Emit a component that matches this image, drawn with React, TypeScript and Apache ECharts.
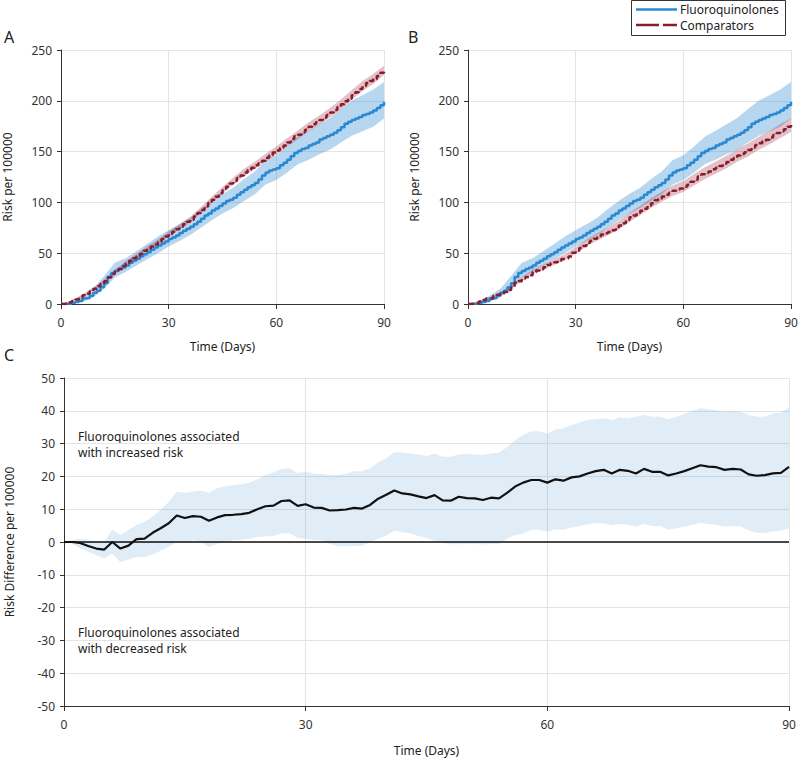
import React, { useEffect, useRef } from "react";
import * as echarts from "echarts";

const FONT = '"Noto Sans", "Open Sans", sans-serif';

const DAYS = [0,1,2,3,4,5,6,7,8,9,10,11,12,13,14,15,16,17,18,19,20,21,22,23,24,25,26,27,28,29,30,31,32,33,34,35,36,37,38,39,40,41,42,43,44,45,46,47,48,49,50,51,52,53,54,55,56,57,58,59,60,61,62,63,64,65,66,67,68,69,70,71,72,73,74,75,76,77,78,79,80,81,82,83,84,85,86,87,88,89,90];
const BAND_DAYS = [0,3,6,9,12,15,18,21,24,27,30,33,36,39,42,45,48,51,54,57,60,63,66,69,72,75,78,81,84,87,90];
const X_TICKS_INTERVAL = 30;

// Cumulative risk per 100000 (panels A and B share the fluoroquinolone curve)
const FQ_RISK = [0,0,0.5,1.2,2.0,3.0,5.5,6.0,8.0,11.0,13.0,16.5,20.5,26.5,30.5,32.5,34.5,36.0,38.0,40.5,42.5,44.5,47.0,49.0,51.0,53.5,55.5,57.5,59.5,61.5,64.0,65.5,67.5,70.0,72.0,74.0,76.0,78.5,81.0,84.0,87.0,89.0,92.0,94.0,96.5,99.0,101.5,102.5,104.5,107.5,110.0,112.5,115.0,117.0,119.0,122.5,126.5,129.5,131.5,132.5,133.5,136.5,139.0,142.0,145.5,148.5,150.5,152.5,153.5,156.0,157.5,159.0,162.0,163.5,165.0,166.5,168.5,171.0,174.0,177.5,179.5,181.0,182.5,184.0,186.0,187.0,188.5,190.5,193.0,195.5,199.0];
const COMP_A_RISK = [0,0.3,1.5,3.0,4.5,6.5,8.5,10.0,12.5,15.0,17.5,20.0,22.5,26.0,29.5,32.0,34.5,37.5,40.0,42.5,45.0,47.0,49.5,52.5,54.5,56.5,58.5,61.0,64.0,66.5,69.0,71.0,73.5,76.0,78.5,81.0,83.0,86.0,89.5,92.5,96.0,99.5,102.5,105.5,109.0,112.0,115.5,118.5,121.0,124.0,126.5,129.5,132.0,134.0,136.5,138.5,141.0,144.0,146.5,149.0,151.0,153.5,156.0,159.0,162.5,165.0,166.5,169.0,171.5,174.5,177.0,179.0,181.0,183.5,186.0,188.5,191.0,194.0,196.5,199.5,202.0,205.5,208.5,211.5,214.5,217.5,219.5,221.5,224.5,227.5,230.0];
const COMP_B_RISK = [0,0.2,0.8,2.4,4.0,5.3,5.5,8.0,9.1,10.1,11.9,13.7,16.3,20.8,22.4,25.2,26.6,28.3,31.5,33.0,34.3,36.2,38.5,40.1,41.0,42.6,44.4,45.0,46.8,50.5,52.5,55.0,57.1,60.4,62.3,64.1,65.6,68.3,69.7,70.8,72.6,73.3,77.2,79.5,82.6,85.5,87.2,89.8,91.9,93.7,96.6,99.2,102.2,103.5,105.7,107.5,109.6,111.4,112.6,113.6,115.4,117.4,120.3,122.3,125.5,127.6,128.9,130.5,132.6,134.0,135.8,138.1,139.7,142.1,143.6,146.2,147.6,149.4,151.5,154.1,156.5,158.2,160.5,161.7,163.9,166.4,168.3,170.1,172.1,174.4,176.1];

// Confidence bands (at BAND_DAYS)
const FQ_LO = [0,0.2,2.2,6.5,15.0,26.0,31.5,38.0,44.0,50.0,56.5,62.0,68.0,75.0,82.5,89.0,94.5,101.5,108.0,117.5,122.0,129.5,137.5,142.0,147.5,152.0,159.0,165.5,170.0,174.5,182.5];
const FQ_HI = [0,2.8,8.0,15.0,27.5,40.5,45.0,52.0,59.0,66.5,72.5,78.5,85.0,93.5,101.5,108.5,114.5,123.0,130.5,141.5,146.5,155.0,164.5,170.5,177.0,183.0,192.0,200.0,205.5,211.0,218.5];
const COMP_A_LO = [0,2.3,7.4,13.8,21.0,30.2,38.0,44.9,52.2,58.5,66.4,73.3,80.2,89.5,99.4,108.8,117.6,126.0,132.9,140.2,147.0,154.8,162.2,170.1,176.5,183.9,191.8,200.7,209.6,216.6,225.5];
const COMP_A_HI = [0,3.7,9.6,16.2,24.0,33.8,42.0,49.1,56.8,63.5,71.6,78.7,85.8,95.5,105.6,115.2,124.4,133.0,140.1,147.8,155.0,163.2,170.8,178.9,185.5,193.1,201.2,210.3,219.4,226.4,234.5];
const COMP_B_LO = [0,1.9,4.8,8.8,14.6,22.8,29.0,33.8,38.4,43.0,49.4,56.6,62.2,67.6,73.4,81.0,87.4,94.4,100.6,106.2,110.2,116.7,123.1,128.2,133.6,139.9,145.1,151.7,157.3,163.4,169.3];
const COMP_B_HI = [0,2.9,6.6,11.4,18.0,26.8,33.6,39.0,44.0,49.0,56.0,63.6,69.6,75.4,81.6,89.8,96.6,104.0,110.6,116.6,121.0,127.9,134.7,140.2,145.8,152.5,157.9,164.7,170.5,176.8,182.9];

// Panel C: risk difference per 100000 with band (daily)
const DIFF = [0,0,-0.3,-1.2,-2.0,-2.3,0,-2.0,-1.1,0.9,1.0,2.8,4.2,5.7,8.1,7.3,7.9,7.7,6.5,7.5,8.2,8.3,8.5,8.9,10.0,10.9,11.1,12.5,12.7,11.0,11.5,10.5,10.4,9.6,9.7,9.9,10.4,10.2,11.3,13.2,14.4,15.7,14.8,14.5,13.9,13.4,14.3,12.7,12.6,13.8,13.4,13.3,12.8,13.5,13.3,15.0,16.9,18.1,18.9,18.9,18.1,19.1,18.7,19.7,20.0,20.9,21.6,22.0,20.9,22.0,21.7,20.9,22.3,21.4,21.4,20.3,20.9,21.6,22.5,23.4,23.0,22.8,22.0,22.3,22.1,20.6,20.2,20.4,20.9,21.1,22.9];
const DIFF_HI = [0,0.5,1.0,0.6,0.2,0.0,3.7,2.1,3.7,5.2,6.2,7.7,9.8,12.3,15.3,15.0,15.3,15.6,15.0,16.4,17.0,17.3,17.6,18.1,19.1,20.4,21.2,22.3,22.5,21.0,21.4,20.9,20.7,20.3,20.4,20.8,21.6,21.6,22.5,24.2,25.5,27.4,27.3,27.0,26.7,26.2,27.0,26.0,26.0,26.7,26.8,26.7,26.5,27.0,27.2,28.9,31.1,32.6,33.8,33.8,33.1,34.3,34.7,35.7,36.4,37.2,37.5,37.7,37.2,38.0,37.7,38.2,38.7,38.2,38.2,37.4,38.2,39.0,40.0,40.8,40.5,40.2,39.7,39.9,39.7,38.7,38.2,38.2,39.2,39.5,41.0];
const DIFF_LO = [0,-0.6,-1.8,-3.0,-4.0,-5.0,-3.6,-6.1,-5.3,-4.6,-4.6,-3.8,-2.7,-1.5,0.0,-0.3,0.5,0.0,-1.5,-0.5,0.0,0.5,0.7,1.0,1.5,1.7,1.8,2.7,2.7,1.2,1.0,0.5,0.5,-0.5,-1.3,-1.3,-1.2,-1.2,0.0,1.0,2.0,3.4,3.0,2.6,1.8,1.2,0.3,-0.3,-0.7,-0.7,-0.5,-0.6,-0.8,-0.5,-0.6,1.1,2.1,2.6,3.7,3.7,3.2,3.9,3.7,4.4,4.9,5.4,5.7,5.7,5.2,5.5,5.2,4.7,5.5,4.9,4.9,3.7,4.2,4.7,5.2,5.9,5.5,5.2,4.7,4.9,4.7,3.5,2.8,2.8,3.2,3.5,4.2];

const BLUE = "#2a88d2";
const RED = "#8a1c2f";
const BLUE_BAND = "rgba(43,137,211,0.34)";
const RED_BAND = "rgba(150,35,55,0.28)";
const C_BAND = "rgba(60,140,200,0.16)";
const AXIS = "#333";
const GRID_LINE = "#e4e4e4";

function pairs(xs: number[], ys: number[]) {
  return xs.map((x, i) => [x, ys[i]]);
}

function band(xi: number, xs: number[], lo: number[], hi: number[], color: string) {
  return {
    type: "custom",
    xAxisIndex: xi,
    yAxisIndex: xi,
    silent: true,
    z: 1,
    data: [[0, 0]],
    renderItem: (_p: any, api: any) => {
      const pts: number[][] = [];
      for (let i = 0; i < xs.length; i++) pts.push(api.coord([xs[i], hi[i]]));
      for (let i = xs.length - 1; i >= 0; i--) pts.push(api.coord([xs[i], lo[i]]));
      return { type: "polygon", shape: { points: pts }, style: { fill: color } };
    },
  };
}

function stepLine(xi: number, ys: number[], color: string, dashed: boolean) {
  return {
    type: "line",
    xAxisIndex: xi,
    yAxisIndex: xi,
    step: "end",
    symbol: "none",
    silent: true,
    z: dashed ? 4 : 3,
    data: pairs(DAYS, ys),
    lineStyle: { color, width: 2.5, type: dashed ? [6, 3] : "solid" },
  };
}

const tickStyle = { fontFamily: FONT, fontSize: 12, color: AXIS };
const nameStyle = { fontFamily: FONT, fontSize: 12, color: "#222" };

function xAxis(gi: number, gap: number) {
  return {
    type: "value",
    gridIndex: gi,
    min: 0,
    max: 90,
    interval: X_TICKS_INTERVAL,
    axisLine: { show: true, onZero: false, lineStyle: { color: AXIS, width: 1 } },
    axisTick: { show: true, length: 5, lineStyle: { color: AXIS } },
    axisLabel: { ...tickStyle, margin: 12 },
    splitLine: { show: true, lineStyle: { color: GRID_LINE, width: 1 } },
    name: "Time (Days)",
    nameLocation: "middle",
    nameGap: gap,
    nameTextStyle: nameStyle,
  };
}

function yAxis(gi: number, min: number, max: number, interval: number, name: string, gap: number) {
  return {
    type: "value",
    gridIndex: gi,
    min,
    max,
    interval,
    axisLine: { show: true, lineStyle: { color: AXIS, width: 1 } },
    axisTick: { show: true, length: 4, lineStyle: { color: AXIS } },
    axisLabel: { ...tickStyle, margin: 9 },
    splitLine: { show: true, lineStyle: { color: GRID_LINE, width: 1 } },
    name,
    nameLocation: "middle",
    nameRotate: 90,
    nameGap: gap,
    nameTextStyle: nameStyle,
  };
}

export default function App() {
  const ref = useRef<HTMLDivElement>(null);
  useEffect(() => {
    if (!ref.current) return;
    const chart = echarts.init(ref.current, undefined, { renderer: "svg" });
    const txt = (x: number, y: number, text: string, size: number, extra: any = {}) => ({
      type: "text",
      x,
      y,
      silent: true,
      style: { text, fontFamily: FONT, fontSize: size, fill: "#222", verticalAlign: "middle", ...extra },
    });
    chart.setOption({
      animation: false,
      backgroundColor: "#ffffff",
      grid: [
        { left: 61, top: 50, width: 323, height: 254, outerBoundsMode: "none", containLabel: false },
        { left: 468, top: 50, width: 323, height: 254, outerBoundsMode: "none", containLabel: false },
        { left: 64, top: 378, width: 725, height: 328, outerBoundsMode: "none", containLabel: false },
      ],
      xAxis: [xAxis(0, 36), xAxis(1, 36), xAxis(2, 38)],
      yAxis: [
        yAxis(0, 0, 250, 50, "Risk per 100000", 48),
        yAxis(1, 0, 250, 50, "Risk per 100000", 48),
        yAxis(2, -50, 50, 10, "Risk Difference per 100000", 49),
      ],
      series: [
        band(0, BAND_DAYS, FQ_LO, FQ_HI, BLUE_BAND),
        band(0, BAND_DAYS, COMP_A_LO, COMP_A_HI, RED_BAND),
        stepLine(0, FQ_RISK, BLUE, false),
        stepLine(0, COMP_A_RISK, RED, true),
        band(1, BAND_DAYS, FQ_LO, FQ_HI, BLUE_BAND),
        band(1, BAND_DAYS, COMP_B_LO, COMP_B_HI, RED_BAND),
        stepLine(1, FQ_RISK, BLUE, false),
        stepLine(1, COMP_B_RISK, RED, true),
        band(2, DAYS, DIFF_LO, DIFF_HI, C_BAND),
        {
          type: "line",
          xAxisIndex: 2,
          yAxisIndex: 2,
          symbol: "none",
          silent: true,
          z: 4,
          data: pairs(DAYS, DIFF),
          lineStyle: { color: "#111", width: 2.2 },
          markLine: {
            silent: true,
            symbol: "none",
            label: { show: false },
            lineStyle: { color: "#111", width: 1.5, type: "solid" },
            data: [{ yAxis: 0 }],
          },
        },
      ],
      graphic: [
        txt(4, 37, "A", 16),
        txt(408, 37, "B", 16),
        txt(4, 355, "C", 16),
        txt(78, 444, "Fluoroquinolones associated\nwith increased risk", 12, { lineHeight: 16 }),
        txt(78, 640, "Fluoroquinolones associated\nwith decreased risk", 12, { lineHeight: 16 }),
        {
          type: "rect",
          silent: true,
          shape: { x: 631.5, y: 0.5, width: 154, height: 35 },
          style: { fill: "#fff", stroke: "#333", lineWidth: 1 },
          z: 10,
        },
        {
          type: "line",
          silent: true,
          shape: { x1: 636, y1: 9.5, x2: 677, y2: 9.5 },
          style: { stroke: BLUE, lineWidth: 2.5 },
          z: 11,
        },
        {
          type: "line",
          silent: true,
          shape: { x1: 636, y1: 25, x2: 677, y2: 25 },
          style: { stroke: RED, lineWidth: 2.5, lineDash: [23, 4] },
          z: 11,
        },
        { ...txt(680, 17.5, "Fluoroquinolones\nComparators", 12, { lineHeight: 16 }), z: 11 },
      ],
    });
    return () => chart.dispose();
  }, []);
  return (
    <div
      ref={ref}
      style={{ position: "fixed", left: 0, top: 0, width: 798, height: 759, background: "#fff" }}
    />
  );
}
